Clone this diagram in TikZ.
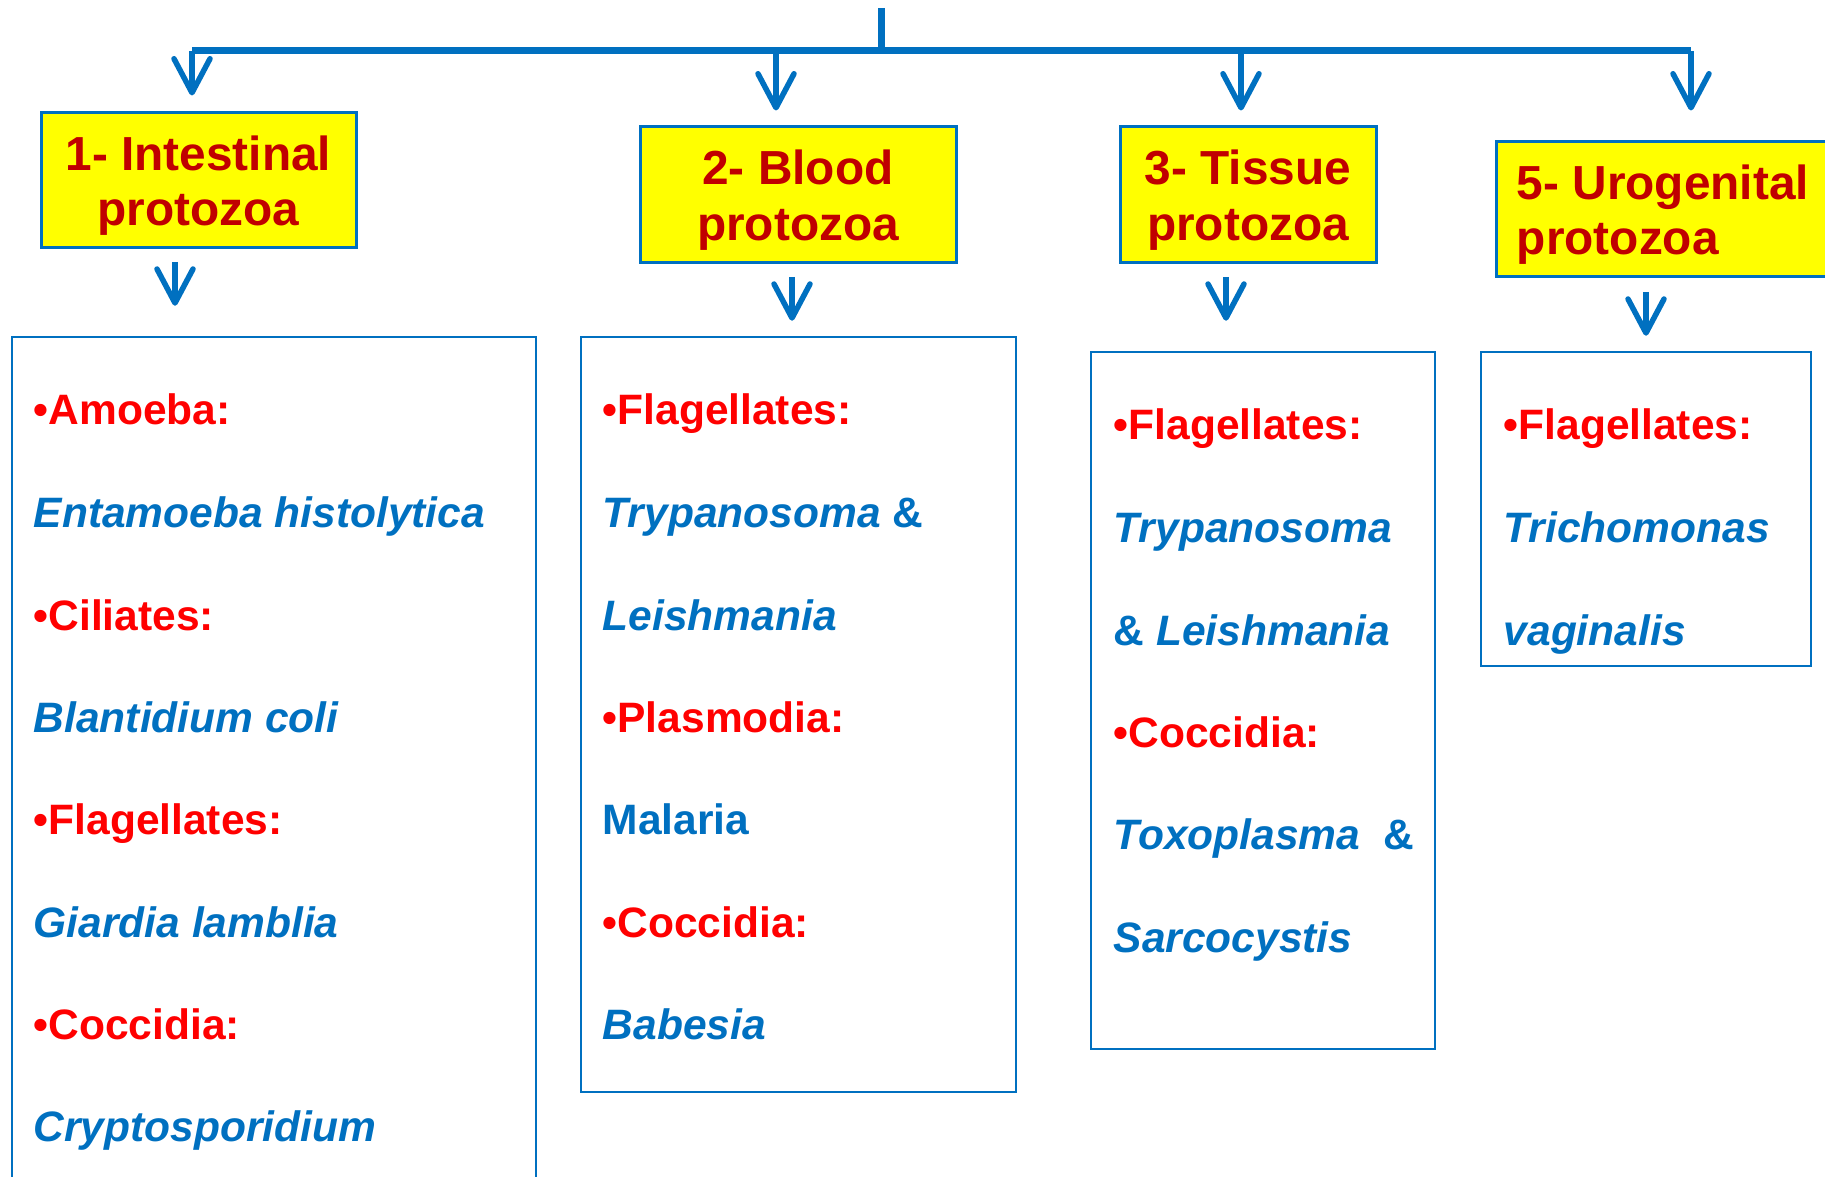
\documentclass[tikz,border=0pt]{standalone}
\usepackage{fontspec}
\setmainfont{Liberation Sans}
\usepackage{tikz}
\usetikzlibrary{arrows.meta}

\definecolor{lineblue}{HTML}{0070C0}
\definecolor{hdrred}{HTML}{C00000}
\definecolor{catred}{HTML}{FF0000}
\definecolor{hdryellow}{HTML}{FFFF00}

\newcommand\hdfont{\bfseries\fontsize{13.6}{15.9}\selectfont}
\newcommand\catfont{\bfseries\fontsize{12.1}{14}\selectfont}
\newcommand\hdstrut{\rule{0pt}{12.8pt}}

\tikzset{
  trunk/.style={draw=lineblue, line width=0.7mm},
  arr/.style={draw=lineblue, line width=0.55mm, -{Straight Barb[length=3.4mm, width=3.6mm, round]}},
  hdr/.style={draw=lineblue, line width=0.3mm, fill=hdryellow, text=hdrred, font=\hdfont, align=center, inner sep=0pt},
  listbox/.style={draw=lineblue, line width=0.25mm, inner sep=0pt},
  cat/.style={anchor=base west, inner sep=0pt, text=catred, font=\catfont},
  sp/.style={anchor=base west, inner sep=0pt, text=lineblue, font=\catfont},
}

\begin{document}
\begin{tikzpicture}[x=0.1mm, y=-0.1mm]
\useasboundingbox (0,0) rectangle (1825,1177);
% tree
\coordinate (top) at (881,8);
\coordinate (k1) at (192,51);
\coordinate (k2) at (776,51);
\coordinate (k3) at (1241,51);
\coordinate (k4) at (1691,51);
\draw[trunk] (top) -- (top |- k1);
\draw[trunk] (k1) -- (k4);
% groups
\node[hdr, minimum width=31.5mm, minimum height=13.5mm] (h1) at (198.5,180.5) {\hdstrut 1- Intestinal\\protozoa};
\node[hdr, minimum width=31.6mm, minimum height=13.6mm] (h2) at (798,195) {\hdstrut 2- Blood\\protozoa};
\node[hdr, minimum width=25.6mm, minimum height=13.6mm] (h3) at (1248,195) {\hdstrut 3- Tissue\\protozoa};
\node[hdr, align=left, minimum width=33.4mm, minimum height=13.5mm] (h4) at (1663,209.5) {\hdstrut 5- Urogenital\\protozoa};
\draw[arr, shorten >=1.6mm] (k1) -- (k1 |- h1.north);
\draw[arr, shorten >=1.5mm] (k2) -- (k2 |- h2.north);
\draw[arr, shorten >=1.5mm] (k3) -- (k3 |- h3.north);
\draw[arr, shorten >=3mm] (k4) -- (k4 |- h4.north);
% lists
\node[listbox, minimum width=52.4mm, minimum height=85.3mm] (c1) at (274,763.5) {};
\node[listbox, minimum width=43.5mm, minimum height=75.5mm] (c2) at (798.5,714.5) {};
\node[listbox, minimum width=34.4mm, minimum height=69.7mm] (c3) at (1263,700.5) {};
\node[listbox, minimum width=33mm, minimum height=31.4mm] (c4) at (1646,509) {};
\coordinate (d1) at (175,262);
\coordinate (d2) at (792,277);
\coordinate (d3) at (1226,277);
\coordinate (d4) at (1646,292);
\draw[arr, shorten >=3mm] (d1) -- (d1 |- c1.north);
\draw[arr, shorten >=1.5mm] (d2) -- (d2 |- c2.north);
\draw[arr, shorten >=3mm] (d3) -- (d3 |- c3.north);
\draw[arr, shorten >=1.5mm] (d4) -- (d4 |- c4.north);
% intestinal
\node[cat] (i1) at (33,425) {\textbullet Amoeba:};
\node[sp] (i2) at (33,527) {\textit{Entamoeba histolytica}};
\node[cat] (i3) at (33,630) {\textbullet Ciliates:};
\node[sp] (i4) at (33,732) {\textit{Blantidium coli}};
\node[cat] (i5) at (33,834) {\textbullet Flagellates:};
\node[sp] (i6) at (33,937) {\textit{Giardia lamblia}};
\node[cat] (i7) at (33,1039) {\textbullet Coccidia:};
\node[sp] (i8) at (33,1141) {\textit{Cryptosporidium}};
% blood
\node[cat] (b1) at (602,425) {\textbullet Flagellates:};
\node[sp] (b2) at (602,527) {\textit{Trypanosoma} \&};
\node[sp] (b3) at (602,630) {\textit{Leishmania}};
\node[cat] (b4) at (602,732) {\textbullet Plasmodia:};
\node[sp] (b5) at (602,834) {Malaria};
\node[cat] (b6) at (602,937) {\textbullet Coccidia:};
\node[sp] (b7) at (602,1039) {\textit{Babesia}};
% tissue
\node[cat] (s1) at (1113,440) {\textbullet Flagellates:};
\node[sp] (s2) at (1113,542) {\textit{Trypanosoma}};
\node[sp] (s3) at (1113,645) {\& \textit{Leishmania}};
\node[cat] (s4) at (1113,747) {\textbullet Coccidia:};
\node[sp] (s5) at (1113,849) {\textit{Toxoplasma}\ \ \&};
\node[sp] (s6) at (1113,952) {\textit{Sarcocystis}};
% urogenital
\node[cat] (u1) at (1503,440) {\textbullet Flagellates:};
\node[sp] (u2) at (1503,542) {\textit{Trichomonas}};
\node[sp] (u3) at (1503,645) {\textit{vaginalis}};
\end{tikzpicture}
\end{document}
